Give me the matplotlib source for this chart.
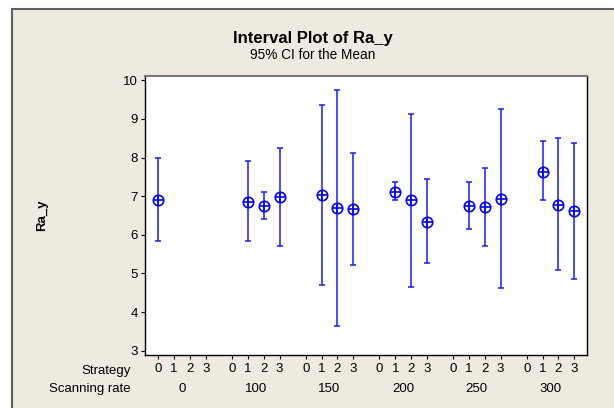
import numpy as np
import matplotlib
matplotlib.use("Agg")
import matplotlib.pyplot as plt
from matplotlib.patches import Rectangle
from matplotlib.transforms import blended_transform_factory

# 数据：扫描速率 / 策略 / 均值与 95% 置信区间
rates = ["0", "100", "150", "200", "250", "300"]
strategies = [0, 1, 2, 3]
rate_idx = [0, 1, 1, 1, 2, 2, 2, 3, 3, 3, 4, 4, 4, 5, 5, 5]
strat = [0, 1, 2, 3, 1, 2, 3, 1, 2, 3, 1, 2, 3, 1, 2, 3]
mean = [6.91, 6.86, 6.75, 6.99, 7.03, 6.69, 6.67, 7.11, 6.89, 6.34, 6.75, 6.73, 6.94, 7.64, 6.78, 6.62]
upper = [8.00, 7.90, 7.11, 8.25, 9.37, 9.75, 8.11, 7.36, 9.13, 7.44, 7.36, 7.74, 9.26, 8.42, 8.50, 8.39]
lower = [5.85, 5.83, 6.40, 5.72, 4.69, 3.65, 5.23, 6.89, 4.66, 5.26, 6.15, 5.72, 4.63, 6.89, 5.09, 4.85]

GROUP = 4.65  # 组间距（以策略间距为单位）
font = "Liberation Sans"
plt.rcParams['font.family'] = [font, 'DejaVu Sans']

fig = plt.figure(figsize=(6.14, 4.08), dpi=100, facecolor="white")
W, H = 614.0, 408.0
# 外框背景
fig.patches.append(Rectangle((12 / W, -0.1), 1.2, 1 - 9 / H + 0.1, transform=fig.transFigure,
                             facecolor="#EEEAE0", edgecolor="#606060", linewidth=1.5, zorder=-5))

ax = fig.add_axes([144.7 / W, 1 - 355 / H, (587.3 - 144.7) / W, (355 - 75.7) / H])
ax.set_zorder(2)
ax.set_facecolor("white")

x = np.array(rate_idx) * GROUP + np.array(strat)
m = np.array(mean)
lo = np.array(lower)
up = np.array(upper)
ax.errorbar(x, m, yerr=[m - lo, up - m], fmt="none", ecolor="#1a1aff", elinewidth=1.1,
            capsize=2.2, capthick=1.1)
ax.plot(x, m, "o", ms=7.5, mfc="none", mec="#0000ff", mew=1.2)
ax.plot(x, m, "+", ms=7.5, mec="#0000ff", mew=1.2)

ax.set_xlim(-0.86, 5 * GROUP + 3 + 0.82)
ax.set_ylim(2.89, 10.12)
ax.set_yticks(range(3, 11))

ticks = [g * GROUP + s for g in range(len(rates)) for s in strategies]
ax.set_xticks(ticks)
ax.set_xticklabels([str(s) for g in range(len(rates)) for s in strategies])
ax.tick_params(axis="both", direction="out", length=3, width=0.8, labelsize=9.5, colors="black")
ax.tick_params(axis="x", pad=3)
ax.tick_params(axis="y", pad=2)
for sp in ["left", "bottom", "right"]:
    ax.spines[sp].set_color("black")
    ax.spines[sp].set_linewidth(1)
ax.spines["top"].set_color("#777777")
ax.spines["top"].set_linewidth(1.5)

trans = blended_transform_factory(ax.transData, fig.transFigure)
for g, r in enumerate(rates):
    ax.text(g * GROUP + 1.5, 1 - 389 / H, r, transform=trans, ha="center", va="center", fontsize=9.5)

fig.text(131 / W, 1 - 371 / H, "Strategy", ha="right", va="center", fontsize=9.5)
fig.text(131 / W, 1 - 389 / H, "Scanning rate", ha="right", va="center", fontsize=9.5)

fig.text(313 / W, 1 - 39 / H, "Interval Plot of Ra_y", ha="center", va="center",
         fontsize=12, fontweight="bold")
fig.text(313 / W, 1 - 55 / H, "95% CI for the Mean", ha="center", va="center", fontsize=9.8)
fig.text(42 / W, 1 - 215 / H, "Ra_y", ha="center", va="center", rotation=90,
         fontsize=9.5, fontweight="bold")

fig.savefig("out.png", dpi=100, facecolor=fig.get_facecolor())
